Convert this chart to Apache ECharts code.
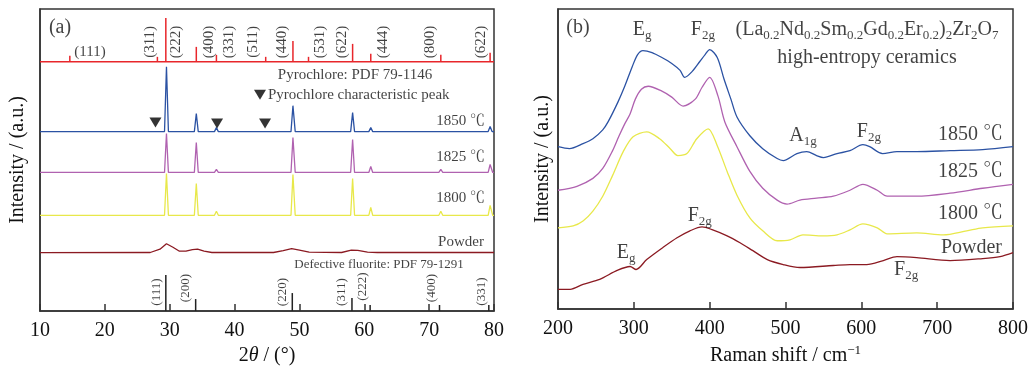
<!DOCTYPE html>
<html><head><meta charset="utf-8">
<script src="https://cdn.jsdelivr.net/npm/echarts@6/dist/echarts.min.js"></script>
<style>html,body{margin:0;padding:0;background:#fff}#c{width:1033px;height:371px}</style>
</head><body><div id="c"></div>
<script>
// ---------------- DATA ----------------
// Panel (a) XRD patterns: [2theta, intensity a.u.]
const xrd1850 = [[10,180],[14.3,180],[14.6,182],[14.9,180],[29.2,180],[29.5,245],[29.8,180],[33.8,180],[34.1,198],[34.4,180],[36.9,180],[37.2,184],[37.5,180],[44.5,180],[44.8,182],[45.1,180],[48.7,180],[49.0,206],[49.35,180],[57.9,180],[58.2,199],[58.5,180],[60.7,180],[61.0,184],[61.3,180],[71.5,180],[71.8,182],[72.1,180],[79.1,180],[79.4,185],[79.7,180],[80,180]];
const xrd1825 = [[10,139],[14.3,139],[14.6,141],[14.9,139],[27.9,139],[28.2,140],[28.5,139],[29.2,139],[29.5,178],[29.8,139],[33.8,139],[34.1,169],[34.4,139],[36.9,139],[37.2,142],[37.5,139],[44.5,139],[44.8,140.5],[45.1,139],[48.7,139],[49.0,174],[49.35,139],[57.9,139],[58.2,172],[58.5,139],[60.7,139],[61.0,145],[61.3,139],[71.5,139],[71.8,142],[72.1,139],[79.1,139],[79.4,147],[79.8,139],[80,139]];
const xrd1800 = [[10,96],[14.3,96],[14.6,98],[14.9,96],[27.9,96],[28.2,98],[28.5,96],[29.2,96],[29.5,138],[29.8,96],[33.8,96],[34.1,128],[34.4,96],[36.9,96],[37.2,100],[37.5,96],[44.5,96],[44.8,98],[45.1,96],[48.7,96],[49.0,137],[49.35,96],[57.9,96],[58.2,133],[58.5,96],[60.7,96],[61.0,104],[61.3,96],[71.5,96],[71.8,100],[72.1,96],[79.1,96],[79.4,106],[79.8,96],[80,96]];
const xrdPowder = [[10,58.5],[27,58.7],[28.5,62],[29.5,67.5],[30.5,64],[31.5,60],[32.5,60],[33.5,61.5],[34.3,62],[35.3,60],[36.5,58.7],[46,58.7],[47.5,60.5],[48.8,62.5],[50,61],[51.5,59],[56.5,58.7],[58,61],[59,60.8],[60.5,59],[62,58.7],[80,58.7]];

// Pyrochlore PDF 79-1146 reference sticks
const pyroBase = 250;
const pyroPos = [14.6, 28.1, 29.4, 34.1, 37.2, 44.8, 49.0, 51.4, 58.2, 61.0, 71.8, 79.4];
const pyroHeight = [6, 5, 44, 15, 7, 5, 21, 5, 18, 8, 7, 9];
const pyroHkl = ['(111)','(311)','(222)','(400)','(331)','(511)','(440)','(531)','(622)','(444)','(800)','(622)'];

// Defective fluorite PDF 79-1291 reference sticks
const fluoPos = [29.4, 34.0, 48.9, 58.1, 60.9, 71.6, 79.2];
const fluoHeight = [36, 12, 18, 13, 6, 6, 6];
const fluoHkl = ['(111)','(200)','(220)','(311)','(222)','(400)','(331)'];

// Pyrochlore characteristic peaks (triangles)
const charPeaks = [[27.8,189],[37.3,188],[44.7,188]];

// Panel (b) Raman spectra: [shift, intensity a.u.]
const raman1850 = [[200,164],[215,162],[233,167],[246,172],[259,181],[266,189],[279,209],[288,225],[298,245],[305,257],[312,261],[324,259],[337,254],[350,248],[361,241],[367,234],[377,240],[387,250],[394,257],[400,262],[410,254],[419,232],[428,212],[436,194],[453,175],[470,162],[489,152],[497,150],[515,157],[528,159],[541,155],[550,153],[568,157],[585,160],[602,166],[611,164],[628,157],[647,159],[673,159],[717,160],[760,161],[800,164]];
const raman1825 = [[200,120],[225,124],[246,132],[259,142],[272,160],[280,174],[288,187],[295,197],[302,212],[310,222],[319,225],[337,220],[350,214],[365,205],[381,212],[390,224],[400,234],[411,215],[420,189],[436,164],[453,139],[470,122],[489,110],[502,106],[519,110],[541,112],[563,114],[585,120],[602,126],[621,120],[634,114],[673,114],[717,117],[760,122],[800,126]];
const raman1800 = [[200,82],[220,84],[233,89],[246,99],[259,114],[272,135],[286,159],[299,174],[317,179],[334,172],[348,162],[358,155],[370,157],[383,172],[398,182],[410,165],[423,139],[436,115],[453,92],[470,79],[489,69],[506,70],[523,75],[549,74],[568,75],[585,80],[602,86],[621,82],[634,76],[673,77],[708,75],[739,79],[760,82],[800,84]];
const ramanPowder = [[200,20],[216,20],[233,25],[255,30],[278,39],[295,43],[303,40],[317,50],[338,62],[357,72],[374,79],[390,83],[404,80],[423,74],[440,67],[457,59],[476,50],[497,45],[519,42],[563,44],[585,45],[607,45],[629,49],[647,53],[673,52],[717,49],[760,51],[783,53],[800,57]];

const xrdTicks = [10,20,30,40,50,60,70,80];
const ramanTicks = [200,300,400,500,600,700,800];

// ---------------- STYLE / LAYOUT ----------------
const FONT = "'Liberation Serif','Times New Roman','Noto Serif CJK SC','Noto Sans CJK SC',serif";
const INK = '#111';
const C = {b:'#2b52a3', p:'#b062b0', y:'#e8e84a', r:'#8b1a22', ref:'#e8262b', k:'#222'};

function rich(base, sub) {
  return {
    n:{fontFamily:FONT, fontSize:base, color:INK},
    s:{fontFamily:FONT, fontSize:sub, color:INK, padding:[Math.round(base*0.6),0,0,0]},
    i:{fontFamily:FONT, fontSize:base, color:INK, fontStyle:'italic'},
    u:{fontFamily:FONT, fontSize:sub, color:INK, padding:[0,0,Math.round(base*0.55),0]}
  };
}

function lineSeries(g, data, color, smooth) {
  return {type:'line', xAxisIndex:g, yAxisIndex:g, data:data, symbol:'none', smooth:smooth || false,
    lineStyle:{color:color, width:1.3}, itemStyle:{color:color}, silent:true, z:3};
}

function stickSeries(pos, heights, base, color) {
  return {type:'custom', xAxisIndex:0, yAxisIndex:0, silent:true, z:4,
    data: pos.map((p,i)=>[p, base, base + heights[i]]),
    encode:{x:0, y:[1,2]},
    renderItem:function(params, api){
      const a = api.coord([api.value(0), api.value(1)]);
      const b = api.coord([api.value(0), api.value(2)]);
      return {type:'line', shape:{x1:a[0], y1:a[1], x2:b[0], y2:b[1]},
        style:{stroke:color, lineWidth:1.5}};
    }};
}

function notes(g, items) {
  return {type:'scatter', xAxisIndex:g, yAxisIndex:g, symbolSize:0, silent:true, z:10,
    data: items.map(it => ({value:[it[0], it[1]],
      label:Object.assign({show:true, formatter:it[2], position:'inside', color:INK,
        fontFamily:FONT, fontSize:it[3] || 15, rich:rich(it[3] || 15, Math.round((it[3]||15)*0.65))}, it[4] || {})}))};
}

// label layout (annotation anchors, in data coordinates)
const pyroLabelX = [17.7, 26.96, 30.92, 36.06, 39.14, 42.79, 47.31, 53.17, 56.52, 62.84, 70.13, 77.95];
const fluoLabelX = [27.99, 32.46, 47.46, 56.56, 59.8, 70.39, 78.15];
const fluoLabelY = [19, 23, 19, 19, 24.5, 23, 19.5];

const pyroNotes = pyroHkl.map((t,i) => i === 0
  ? [pyroLabelX[i], 260, t, 15]
  : [pyroLabelX[i], 270, t, 15, {rotate:90}]);
const fluoNotes = fluoHkl.map((t,i) => [fluoLabelX[i], fluoLabelY[i], t, 13, {rotate:90}]);

const notesA = [
  [13.08, 284, '(a)', 20],
  [58.57, 237, 'Pyrochlore: PDF 79-1146', 15],
  [45.15, 217, 'Pyrochlore characteristic peak', 15, {position:'right', distance:0}],
  [78.61, 191, '1850 ℃', 15, {position:'left', distance:0}],
  [78.61, 154, '1825 ℃', 15, {position:'left', distance:0}],
  [78.61, 113, '1800 ℃', 15, {position:'left', distance:0}],
  [78.45, 69, 'Powder', 15, {position:'left', distance:0}],
  [62.27, 47, 'Defective fluorite: PDF 79-1291', 13]
].concat(pyroNotes, fluoNotes);

const notesB = [
  [226.4, 284, '(b)', 20],
  [310.8, 282, '{n|E}{s|g}', 20],
  [391, 282, '{n|F}{s|2g}', 20],
  [607.5, 282, '{n|(La}{s|0.2}{n|Nd}{s|0.2}{n|Sm}{s|0.2}{n|Gd}{s|0.2}{n|Er}{s|0.2}{n|)}{s|2}{n|Zr}{s|2}{n|O}{s|7}', 20],
  [607.5, 254, 'high-entropy ceramics', 20],
  [523, 175, '{n|A}{s|1g}', 20],
  [610, 179, '{n|F}{s|2g}', 20],
  [786.9, 176, '1850 ℃', 20, {position:'left', distance:0}],
  [786.9, 139, '1825 ℃', 20, {position:'left', distance:0}],
  [786.9, 96, '1800 ℃', 20, {position:'left', distance:0}],
  [785.5, 62, 'Powder', 20, {position:'left', distance:0}],
  [289.7, 57, '{n|E}{s|g}', 20],
  [387, 94, '{n|F}{s|2g}', 20],
  [659, 40, '{n|F}{s|2g}', 20]
];

const axisLine = {show:true, lineStyle:{color:'#333', width:1.5}};
function xAxis(g, min, max, interval, name, gap) {
  return {gridIndex:g, type:'value', min:min, max:max, interval:interval,
    axisLine:axisLine, axisTick:{inside:true, length:7, lineStyle:{color:'#333', width:1.5}},
    axisLabel:{fontFamily:FONT, fontSize:20, color:INK, margin:10},
    splitLine:{show:false}, name:name, nameLocation:'middle', nameGap:gap,
    nameTextStyle:{fontFamily:FONT, fontSize:20, color:INK, rich:rich(20,13)}};
}
function yAxis(g, gap) {
  return {gridIndex:g, type:'value', min:0, max:303, axisLine:axisLine,
    axisTick:{show:false}, axisLabel:{show:false}, splitLine:{show:false},
    name:'Intensity / (a.u.)', nameLocation:'middle', nameRotate:90, nameGap:gap,
    nameTextStyle:{fontFamily:FONT, fontSize:20, color:INK}};
}

const option = {
  animation:false,
  backgroundColor:'#fff',
  grid:[
    {left:40, top:9, width:454, height:303, show:true, borderColor:'#333', borderWidth:1.5, backgroundColor:'transparent'},
    {left:558, top:9, width:455, height:303, show:true, borderColor:'#333', borderWidth:1.5, backgroundColor:'transparent'}
  ],
  xAxis:[
    xAxis(0, xrdTicks[0], xrdTicks[xrdTicks.length-1], xrdTicks[1]-xrdTicks[0], '2{i|θ} / (°)', 35),
    xAxis(1, ramanTicks[0], ramanTicks[ramanTicks.length-1], ramanTicks[1]-ramanTicks[0], 'Raman shift / cm{u|−1}', 33)
  ],
  yAxis:[yAxis(0, 12), yAxis(1, 5)],
  series:[
    lineSeries(0, xrdPowder, C.r),
    lineSeries(0, xrd1800, C.y),
    lineSeries(0, xrd1825, C.p),
    lineSeries(0, xrd1850, C.b),
    {type:'line', xAxisIndex:0, yAxisIndex:0, data:[[xrdTicks[0], pyroBase],[xrdTicks[xrdTicks.length-1], pyroBase]],
      symbol:'none', lineStyle:{color:C.ref, width:1.5}, silent:true, z:4},
    stickSeries(pyroPos, pyroHeight, pyroBase, C.ref),
    stickSeries(fluoPos, fluoHeight, 0, C.k),
    {type:'scatter', xAxisIndex:0, yAxisIndex:0, data:charPeaks.concat([[43.92, 217]]), symbol:'triangle',
      symbolRotate:180, symbolSize:[12,10], itemStyle:{color:'#000'}, silent:true, z:6},
    notes(0, notesA),
    lineSeries(1, ramanPowder, C.r, 0.3),
    lineSeries(1, raman1800, C.y, 0.3),
    lineSeries(1, raman1825, C.p, 0.3),
    lineSeries(1, raman1850, C.b, 0.3),
    notes(1, notesB)
  ]
};
const chart = echarts.init(document.getElementById('c'));
chart.setOption(option);
</script>
</body></html>
